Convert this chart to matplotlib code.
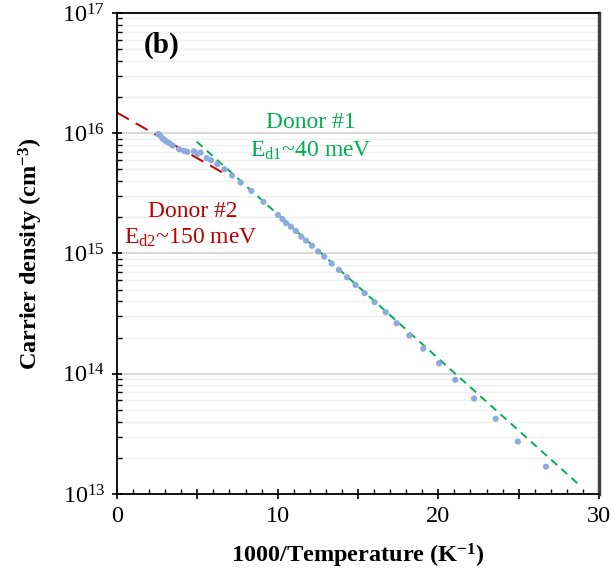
import numpy as np
import matplotlib.pyplot as plt
from matplotlib.ticker import LogLocator, NullFormatter, MultipleLocator, FixedLocator, FuncFormatter

# 数据：1000/T 与 载流子浓度
inv_temp = [2.57, 2.68, 2.82, 2.94, 3.09, 3.26, 3.46, 3.86, 4.17, 4.38, 4.79, 5.00, 5.20,
            5.58, 5.85, 6.24, 6.68, 7.16, 7.70, 8.36, 9.11, 10.02, 10.30, 10.52, 10.82,
            11.13, 11.47, 11.76, 12.13, 12.52, 12.90, 13.36, 13.81, 14.31, 14.85, 15.41,
            16.03, 16.72, 17.40, 18.19, 19.06, 20.04, 21.05, 22.22, 23.57, 24.95, 26.70]
density = [9.86e15, 9.55e15, 9.08e15, 8.8e15, 8.5e15, 8.26e15, 7.9e15, 7.36e15, 7.13e15,
           7.0e15, 7.08e15, 6.73e15, 6.9e15, 6.2e15, 5.97e15, 5.53e15, 5.02e15, 4.45e15,
           3.89e15, 3.32e15, 2.69e15, 2.09e15, 1.93e15, 1.79e15, 1.67e15, 1.54e15, 1.38e15,
           1.28e15, 1.16e15, 1.04e15, 9.42e14, 8.25e14, 7.31e14, 6.35e14, 5.48e14, 4.68e14,
           3.94e14, 3.25e14, 2.63e14, 2.08e14, 1.62e14, 1.22e14, 8.9e13, 6.22e13, 4.22e13,
           2.73e13, 1.69e13]

# 拟合线参数 log10(n) = a - b * x
donor2_a, donor2_b, donor2_range = 16.171, 0.0758, (0.0, 6.83)
donor1_a, donor1_b, donor1_range = 16.525, 0.1199, (4.96, 28.92)

plt.rcParams['font.family'] = ['Liberation Serif', 'DejaVu Serif']
plt.rcParams['mathtext.fontset'] = 'custom'
plt.rcParams['mathtext.rm'] = 'Liberation Serif'
plt.rcParams['mathtext.it'] = 'Liberation Serif:italic'
plt.rcParams['mathtext.bf'] = 'Liberation Serif:bold'

fig = plt.figure(figsize=(6.14, 5.81), dpi=100)
ax = fig.add_axes([0.1906, 0.1497, 0.785, 0.828])

ax.set_yscale('log')
ax.set_xlim(0, 30)
ax.set_ylim(1e13, 1e17)

# 网格线
ax.grid(True, which='major', axis='y', color='#d9d9d9', linewidth=1.5, zorder=0)
ax.grid(True, which='minor', axis='y', color='#efefef', linewidth=1.0, zorder=0)
ax.set_axisbelow(True)

# 拟合线
x2 = np.linspace(*donor2_range, 50)
ax.plot(x2, 10 ** (donor2_a - donor2_b * x2), color='#c00000', lw=1.4,
        dashes=(7, 4), zorder=2)
x1 = np.linspace(*donor1_range, 50)
ax.plot(x1, 10 ** (donor1_a - donor1_b * x1), color='#00b050', lw=1.4,
        dashes=(4, 3), zorder=2)

# 数据点
ax.scatter(inv_temp, density, s=20, color='#8faadc', edgecolors='none', zorder=3)

# 刻度
ax.xaxis.set_major_locator(MultipleLocator(5))
ax.xaxis.set_major_formatter(FuncFormatter(lambda v, p: f'{v:.0f}' if round(v) % 10 == 0 else ''))
ax.xaxis.set_minor_locator(MultipleLocator(1))
ax.yaxis.set_major_locator(FixedLocator([1e13, 1e14, 1e15, 1e16, 1e17]))
ax.yaxis.set_minor_locator(LogLocator(base=10, subs=np.arange(2, 10), numticks=20))
ax.yaxis.set_minor_formatter(NullFormatter())
ax.set_yticklabels([r'$10^{13}$', r'$10^{14}$', r'$10^{15}$', r'$10^{16}$', r'$10^{17}$'])
ax.tick_params(which='major', direction='inout', length=7, width=1.2, labelsize=17.5, pad=5)
ax.tick_params(which='minor', direction='in', length=3.5, width=1.0)

for side in ['left', 'bottom', 'top']:
    ax.spines[side].set_color('black')
    ax.spines[side].set_linewidth(1.3)
ax.spines['right'].set_color('#404040')
ax.spines['right'].set_linewidth(2.5)

ax.set_xlabel('1000/Temperature (K$^{\\mathbf{-1}}$)', fontsize=17.5, fontweight='bold', labelpad=11)
ax.set_ylabel('Carrier density (cm$^{\\mathbf{-3}}$)', fontsize=17.5, fontweight='bold', labelpad=12)

# 注释文字
ax.text(2.8, 10 ** 16.734, '(b)', fontsize=21, fontweight='bold', ha='center', va='center')
ax.text(12.05, 10 ** 16.09, 'Donor #1', fontsize=17, color='#00b050', ha='center', va='center')
ax.text(12.05, 10 ** 15.85, r'E$_{\mathrm{d1}}$~40 meV', fontsize=17, color='#00b050',
        ha='center', va='center')
ax.text(4.70, 10 ** 15.345, 'Donor #2', fontsize=17, color='#c00000', ha='center', va='center')
ax.text(4.60, 10 ** 15.13, r'E$_{\mathrm{d2}}$~150 meV', fontsize=17, color='#c00000',
        ha='center', va='center')

plt.savefig('out.png', dpi=100)
